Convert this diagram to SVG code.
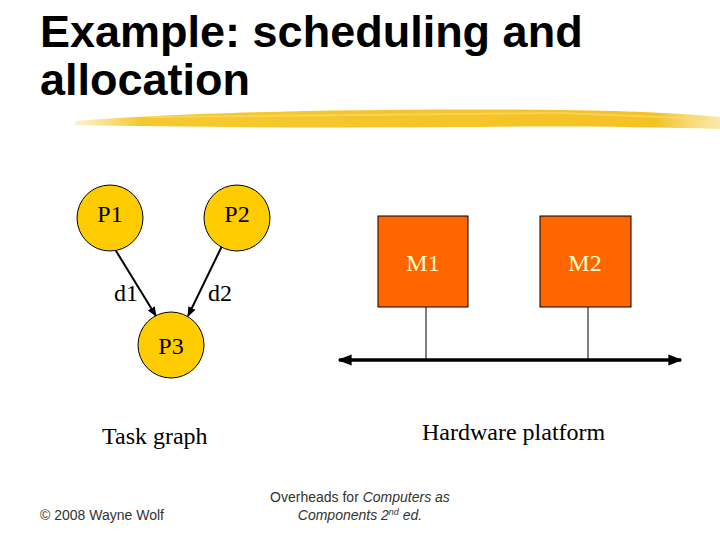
<svg xmlns="http://www.w3.org/2000/svg" width="720" height="540" viewBox="0 0 720 540">
<defs>
<style>
.title{font-family:"Liberation Sans",Arial,sans-serif;font-weight:bold;font-size:45px;fill:#000}
.ser{font-family:"Liberation Serif","Times New Roman",serif;font-size:24px;fill:#000}
.proc{fill:#FFCC00;stroke:#000;stroke-width:1}
.mem{fill:#FF6600;stroke:#000;stroke-width:1}
.mlab{font-family:"Liberation Serif","Times New Roman",serif;font-size:24px;fill:#FFFFCC}
.foot{font-family:"Liberation Sans",Arial,sans-serif;font-size:14px;fill:#333}
.edge{stroke:#000;stroke-width:2;fill:none}
</style>
<marker id="ah" viewBox="0 0 10 10" refX="9" refY="5" markerWidth="5" markerHeight="5" orient="auto-start-reverse">
<path d="M0,1 L10,5 L0,9 z" fill="#000"/>
</marker>
<marker id="bh" viewBox="0 0 10 10" refX="9" refY="5" markerWidth="4" markerHeight="4" orient="auto-start-reverse">
<path d="M0,1 L10,5 L0,9 z" fill="#000"/>
</marker>
<linearGradient id="brush" x1="0" y1="0" x2="1" y2="0">
<stop offset="0" stop-color="#F6D35A" stop-opacity="0.3"/>
<stop offset="0.1" stop-color="#F5C92E"/>
<stop offset="0.9" stop-color="#F4C225"/>
<stop offset="1" stop-color="#F6D35A" stop-opacity="0.5"/>
</linearGradient>
</defs>
<rect width="720" height="540" fill="#fff"/>
<text class="title" x="40" y="47">Example: scheduling and</text>
<text class="title" x="40" y="95">allocation</text>
<path d="M75,121 C200,111 400,108 560,110 C640,111 690,114 720,117 L720,129 C650,127 560,126 450,127 C300,128 180,127 75,125 Z" fill="url(#brush)"/>
<path d="M150,117 L560,113 L710,119" stroke="#F9DC7A" stroke-width="2" fill="none" opacity="0.6"/>

<g id="connectors">
<line class="edge" x1="113" y1="246" x2="156" y2="316" marker-end="url(#ah)"/>
<line class="edge" x1="222" y1="246" x2="188" y2="316" marker-end="url(#ah)"/>
<line x1="426" y1="307" x2="426" y2="360" stroke="#000" stroke-width="1"/>
<line x1="588" y1="307" x2="588" y2="360" stroke="#000" stroke-width="1"/>
<line x1="339" y1="360" x2="681" y2="360" stroke="#000" stroke-width="3.5" marker-start="url(#bh)" marker-end="url(#bh)"/>
<text class="ser" x="114" y="301">d1</text>
<text class="ser" x="208" y="301">d2</text>
</g>

<g id="P1"><circle class="proc" cx="110" cy="218" r="33"/><text class="ser" x="110" y="222" text-anchor="middle">P1</text></g>
<g id="P2"><circle class="proc" cx="237" cy="218" r="33"/><text class="ser" x="237" y="222" text-anchor="middle">P2</text></g>
<g id="P3"><circle class="proc" cx="171" cy="345" r="33"/><text class="ser" x="171" y="354" text-anchor="middle">P3</text></g>

<g id="M1"><rect class="mem" x="378" y="216" width="90" height="91"/><text class="mlab" x="423" y="271" text-anchor="middle">M1</text></g>
<g id="M2"><rect class="mem" x="540" y="216" width="91" height="91"/><text class="mlab" x="585" y="271" text-anchor="middle">M2</text></g>

<text class="ser" x="102" y="444">Task graph</text>
<text class="ser" x="422" y="440">Hardware platform</text>

<text class="foot" x="40" y="520">© 2008 Wayne Wolf</text>
<text class="foot" x="360" y="502" text-anchor="middle">Overheads for <tspan font-style="italic">Computers as</tspan></text>
<text class="foot" x="360" y="520" text-anchor="middle" font-style="italic">Components 2<tspan font-size="9" dy="-5">nd</tspan><tspan dy="5"> ed.</tspan></text>
</svg>
